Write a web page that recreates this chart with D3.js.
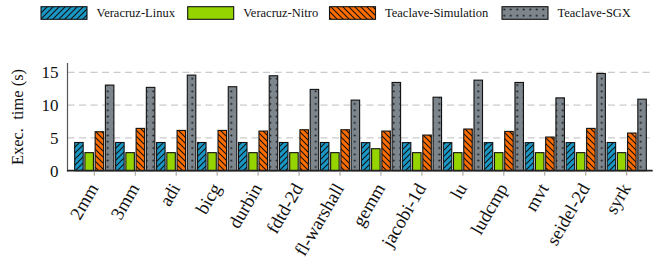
<!DOCTYPE html>
<html><head><meta charset="utf-8">
<script src="https://cdn.jsdelivr.net/npm/d3@7/dist/d3.min.js"></script>
<style>
body{margin:0;background:#fff;}
text{font-family:"Liberation Serif","Times New Roman",serif;fill:#111;}
</style></head>
<body><svg id="c" width="662" height="264"></svg>
<script>
const categories = ["2mm","3mm","adi","bicg","durbin","fdtd-2d","fl-warshall","gemm","jacobi-1d","lu","ludcmp","mvt","seidel-2d","syrk"];
const seriesNames = ["Veracruz-Linux","Veracruz-Nitro","Teaclave-Simulation","Teaclave-SGX"];
const veracruzLinux = [4.3,4.3,4.3,4.3,4.3,4.3,4.3,4.28,4.28,4.28,4.28,4.28,4.28,4.3];
const veracruzNitro = [2.75,2.75,2.75,2.75,2.75,2.75,2.75,3.35,2.75,2.75,2.75,2.75,2.75,2.75];
const teaclaveSim = [5.94,6.45,6.14,6.14,6.04,6.24,6.24,6.04,5.43,6.35,5.99,5.13,6.45,5.74];
const teaclaveSGX = [13.05,12.7,14.57,12.8,14.47,12.39,10.76,13.45,11.2,13.8,13.45,11.1,14.82,10.9];
const yTicks = [0,5,10,15];

const seriesValues = [veracruzLinux, veracruzNitro, teaclaveSim, teaclaveSGX];
const colors = ["#1998c6","#96d400","#ff6d00","#7d858d"];
const patterns = ["pNE","none","pNW","pDots"];

const svg = d3.select("#c");
const defs = svg.append("defs");
function hatch(id, color, dir){
  const p = defs.append("pattern").attr("id",id).attr("patternUnits","userSpaceOnUse")
    .attr("width",6).attr("height",6);
  p.append("rect").attr("width",6).attr("height",6).attr("fill",color);
  if(dir>0){
    p.append("path").attr("d","M-1,1 l2,-2 M0,6 l6,-6 M5,7 l2,-2").attr("stroke","#111").attr("stroke-width",1.1);
  } else {
    p.append("path").attr("d","M-1,5 l2,2 M0,0 l6,6 M5,-1 l2,2").attr("stroke","#111").attr("stroke-width",1.1);
  }
}
hatch("pNE", colors[0], 1);
hatch("pNW", colors[2], -1);
{
  const p = defs.append("pattern").attr("id","pDots").attr("patternUnits","userSpaceOnUse")
    .attr("width",6.5).attr("height",6.3).attr("x",0.5);
  p.append("rect").attr("width",6.5).attr("height",6.3).attr("fill",colors[3]);
  p.append("circle").attr("cx",3.25).attr("cy",3.15).attr("r",1).attr("fill","#111");
}
const fillOf = i => patterns[i]==="none" ? colors[i] : `url(#${patterns[i]})`;

const x0 = 73.8, x1 = 647.2, yBottom = 170.7, yTop = 63.1;
const x = d3.scaleBand().domain(categories).range([x0, x1]).paddingInner(0).paddingOuter(0);
const xs = d3.scaleBand().domain(seriesNames).range([0, x.bandwidth()]).paddingInner(0.17).paddingOuter(0.085);
const y = d3.scaleLinear().domain([0, 16.4]).range([yBottom, yTop]);

svg.append("g").selectAll("line").data(yTicks.filter(d=>d>0)).join("line")
  .attr("x1",67.5).attr("x2",652.7).attr("y1",d=>y(d)).attr("y2",d=>y(d))
  .attr("stroke","#bdbdbd").attr("stroke-width",1).attr("stroke-dasharray","7,4.5");

const g = svg.append("g");
seriesNames.forEach((s, si) => {
  g.append("g").selectAll("rect").data(categories).join("rect")
    .attr("x", c => x(c) + xs(s))
    .attr("width", xs.bandwidth())
    .attr("y", (c, i) => y(seriesValues[si][i]))
    .attr("height", (c, i) => y(0) - y(seriesValues[si][i]))
    .attr("fill", fillOf(si))
    .attr("stroke", "#111").attr("stroke-width", 1.1);
});

svg.append("line").attr("x1",67.5).attr("x2",67.5).attr("y1",63).attr("y2",171.5)
  .attr("stroke","#555").attr("stroke-width",1.2);
svg.append("line").attr("x1",67).attr("x2",652.7).attr("y1",yBottom).attr("y2",yBottom)
  .attr("stroke","#222").attr("stroke-width",1.8);

svg.append("g").selectAll("line").data(categories).join("line")
  .attr("x1",c=>x(c)+x.bandwidth()/2).attr("x2",c=>x(c)+x.bandwidth()/2)
  .attr("y1",yBottom+1).attr("y2",yBottom+5).attr("stroke","#999").attr("stroke-width",1);

svg.append("g").selectAll("text").data(categories).join("text")
  .attr("transform", c => `translate(${x(c)+x.bandwidth()/2-1},${yBottom+14}) rotate(-60)`)
  .attr("text-anchor","end").attr("dy","0.35em")
  .style("font-size","18.5px").text(c=>c);

svg.append("g").selectAll("text").data(yTicks).join("text")
  .attr("x",58.5).attr("y",d=>y(d)).attr("dy","0.35em").attr("text-anchor","end")
  .style("font-size","17px").text(d=>d);

svg.append("text").attr("transform","translate(23,117) rotate(-90)")
  .attr("text-anchor","middle").style("font-size","16.5px").text("Exec.\u2002time (s)");

const legX = [41, 187.7, 329.5, 502];
seriesNames.forEach((s, i) => {
  svg.append("rect").attr("x",legX[i]).attr("y",6.7).attr("width",46).attr("height",12.6)
    .attr("fill",fillOf(i)).attr("stroke","#111").attr("stroke-width",1.1);
  svg.append("text").attr("x",legX[i]+55.5).attr("y",17).style("font-size","12.5px").text(s);
});
</script></body></html>
